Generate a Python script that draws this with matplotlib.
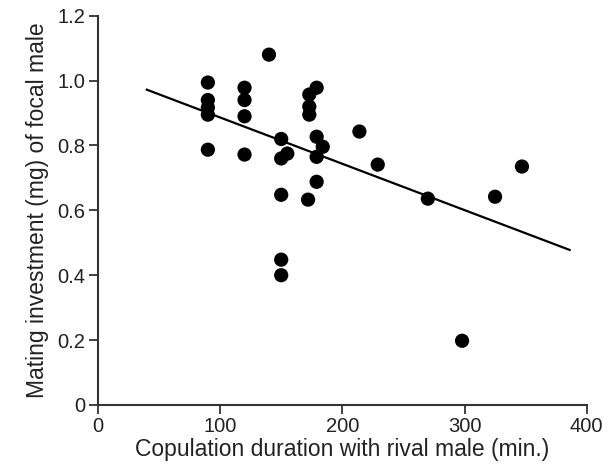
import matplotlib
matplotlib.use("Agg")
import matplotlib.pyplot as plt

plt.rcParams["font.family"] = ["Liberation Sans", "DejaVu Sans"]

# Copulation duration with rival male (min.)
duration = [90, 90, 90, 90, 90,
            120, 120, 120, 120,
            140,
            150, 150, 155, 150, 150, 150,
            172, 173, 173, 173,
            179, 179, 184, 179, 179,
            214, 229, 270, 298, 325, 347]
# Mating investment (mg) of focal male
investment = [0.994, 0.94, 0.917, 0.895, 0.787,
              0.978, 0.94, 0.89, 0.772,
              1.08,
              0.82, 0.76, 0.775, 0.648, 0.448, 0.40,
              0.633, 0.957, 0.92, 0.895,
              0.978, 0.827, 0.796, 0.765, 0.688,
              0.843, 0.741, 0.636, 0.198, 0.642, 0.735]

# regression line end points
fit_x = [40, 386]
fit_y = [0.972, 0.478]

xticks = [0, 100, 200, 300, 400]
yticks = [0, 0.2, 0.4, 0.6, 0.8, 1.0, 1.2]
ytick_labels = ["0", "0.2", "0.4", "0.6", "0.8", "1.0", "1.2"]

fig = plt.figure(figsize=(6.08, 4.69), dpi=100)
ax = fig.add_axes([0.161, 0.1365, 0.804, 0.83])

ax.plot(fit_x, fit_y, color="black", linewidth=1.6, zorder=2)
ax.scatter(duration, investment, s=105, color="black", edgecolors="none", zorder=3)

ax.set_xlim(0, 400)
ax.set_ylim(0, 1.2)
ax.set_xticks(xticks)
ax.set_yticks(yticks)
ax.set_yticklabels(ytick_labels)

for side in ["top", "right"]:
    ax.spines[side].set_visible(False)
for side in ["left", "bottom"]:
    ax.spines[side].set_linewidth(1.5)
    ax.spines[side].set_color("#333333")
ax.tick_params(direction="out", length=6.5, width=1.3, color="#333333",
               labelsize=14.5, labelcolor="#222222", pad=2.5)

ax.set_xlabel("Copulation duration with rival male (min.)", fontsize=16.5, color="#222222", labelpad=1)
ax.set_ylabel("Mating investment (mg) of focal male", fontsize=16.5, color="#222222", labelpad=6)

fig.savefig("out.png", dpi=100)
